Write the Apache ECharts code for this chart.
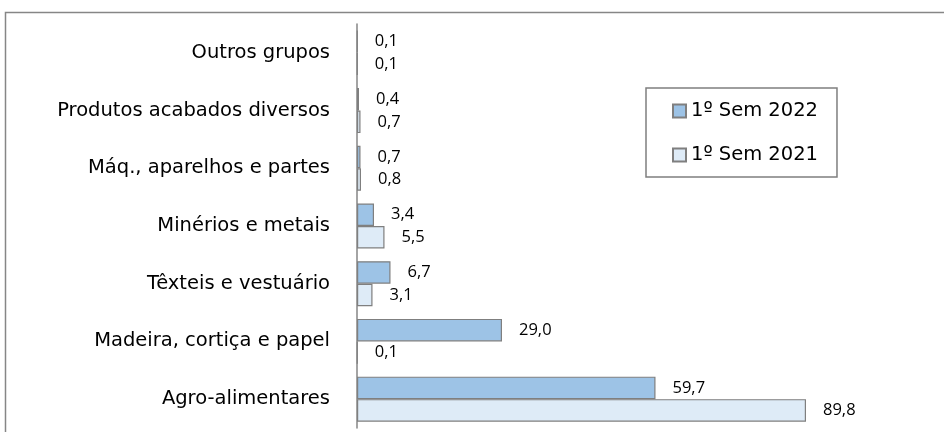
<!DOCTYPE html>
<html><head><meta charset="utf-8">
<script src="https://cdn.jsdelivr.net/npm/echarts@6/dist/echarts.min.js"></script>
<style>html,body{margin:0;padding:0;background:#fff}#c{width:944px;height:432px}</style>
</head><body><div id="c"></div>
<script>
const categories = ['Agro-alimentares','Madeira, cortiça e papel','Têxteis e vestuário','Minérios e metais','Máq., aparelhos e partes','Produtos acabados diversos','Outros grupos'];
const sem2022 = [59.7, 29.0, 6.7, 3.4, 0.7, 0.4, 0.1];
const sem2021 = [89.8, 0.1, 3.1, 5.5, 0.8, 0.7, 0.1];
const seriesNames = ['1º Sem 2022','1º Sem 2021'];

const font = 'DejaVu Sans';
const chart = echarts.init(document.getElementById('c'));
const lbl = {
  show: true, position: 'right', distance: 17,
  formatter: p => p.value.toFixed(1).replace('.', ','),
  fontFamily: 'Open Sans', fontSize: 16.5, color: '#000'
};
chart.setOption({
  animation: false,
  graphic: [{type:'rect', shape:{x:5.5, y:12.5, width:1000, height:500}, style:{fill:'none', stroke:'#868686', lineWidth:1.5}}],
  legend: {
    orient: 'vertical', left: 646, top: 88,
    padding: [13, 19, 12, 26], itemGap: 24,
    borderColor: '#7f7f7f', borderWidth: 1.5,
    itemWidth: 13, itemHeight: 13, icon: 'rect',
    textStyle: {fontFamily: font, fontSize: 19.5, color: '#000'},
    data: seriesNames
  },
  grid: {left: 357, top: 24, width: 500, height: 404, containLabel: false},
  xAxis: {type: 'value', min: 0, max: 100, show: false},
  yAxis: {
    type: 'category', data: categories,
    axisLine: {show: true, lineStyle: {color: '#868686', width: 1.5}},
    axisTick: {show: false},
    axisLabel: {fontFamily: font, fontSize: 19.5, color: '#000', margin: 27}
  },
  series: [
    {name: seriesNames[0], type: 'bar', data: sem2022, barGap: '0%', barCategoryGap: '22%',
     itemStyle: {color: '#9DC3E6', borderColor: '#7f7f7f', borderWidth: 1.2}, label: lbl},
    {name: seriesNames[1], type: 'bar', data: sem2021,
     itemStyle: {color: '#DEEBF7', borderColor: '#7f7f7f', borderWidth: 1.2}, label: lbl}
  ]
});
</script></body></html>
